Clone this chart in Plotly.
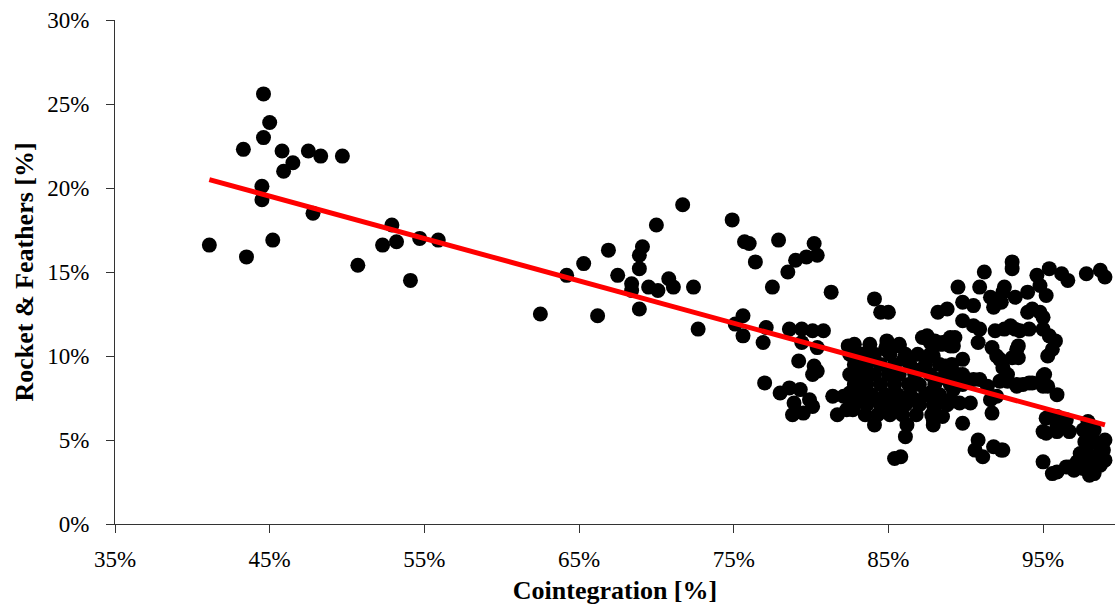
import plotly.graph_objects as go

# Scatter points: cointegration [%] vs rocket & feathers [%]
coint = [
    # left group
    41.1, 43.3, 43.5, 44.6, 44.6, 45.0, 44.5, 44.5, 45.2, 45.8, 45.9, 46.5, 47.5, 47.8, 48.3, 49.7,
    50.7, 52.3, 52.9, 53.2, 54.1, 54.7, 55.9,
    # middle group
    62.5, 64.2, 65.3, 66.2, 66.9, 67.5, 68.4, 68.4, 69.1, 68.9, 68.9, 68.9, 69.5, 70.1, 70.0, 70.8, 71.1,
    71.7, 72.4, 72.7,
    # 75-82%
    74.9, 75.7, 76.0, 76.4, 77.9, 80.2, 80.4, 79.7, 79.0, 78.5, 77.5, 81.3, 75.6, 75.1, 75.6, 76.9,
    77.1, 78.6, 79.4, 80.1, 80.8, 79.4, 80.4, 79.2, 80.2, 80.1, 80.4, 82.4,
    77.0, 78.0, 78.6, 79.3, 78.9, 79.9, 80.1, 78.8, 79.5, 81.4, 81.7, 82.3, 82.3, 82.1, 82.5, 82.7,
    # dense cluster 82-90%
    82.8, 83.8, 84.9, 85.7, 87.5, 88.5,
    82.5, 83.3, 84.1, 85.1, 86.1, 86.9, 87.7,
    82.8, 83.6, 84.5, 85.4, 86.4, 87.4, 88.3, 89.1,
    82.5, 83.3, 84.1, 85.0, 85.7, 86.7, 87.7, 88.7, 89.5,
    82.8, 83.6, 84.5, 85.4, 86.3, 87.0, 88.0, 89.0, 89.8,
    83.2, 83.9, 84.8, 85.6, 86.4, 87.4, 88.3,
    82.8, 83.6, 84.5, 85.3, 86.1, 87.0, 87.9, 88.8,
    83.5, 84.3, 85.1, 85.9, 86.8, 87.8,
    84.1, 86.2, 87.9, 86.1, 85.4, 85.8,
    84.1, 84.5, 85.0, 84.9, 85.7, 87.2, 88.0, 88.5, 89.0, 89.2,
    84.8, 86.0, 87.1, 88.2, 89.2, 86.7, 88.0, 85.8, 84.2, 83.0, 83.0, 84.0,
    # 88-94%
    88.2, 88.8, 89.5, 89.8, 90.5, 89.8, 90.5, 90.9, 90.9, 91.6, 91.2, 93.0, 93.0, 92.4, 93.2, 91.8,
    92.3, 91.9, 92.9, 93.5,
    89.3, 89.0, 88.3, 90.8, 91.7, 92.0, 93.4, 93.0, 89.8, 88.7, 87.7, 87.9,
    92.7, 92.2, 94.3, 95.1, 95.0, 93.3, 93.7, 90.9, 91.4, 89.8, 90.5,
    87.7, 88.3, 89.0, 89.6, 90.3, 87.9, 88.5, 89.8, 91.7, 91.6, 92.0,
    95.4, 95.2, 95.9,
    90.8, 90.6, 91.1, 91.8, 92.3, 95.0,
    # right group 92-99%
    94.6, 95.4, 96.2, 96.6, 97.8, 98.7, 99.0,
    92.5, 94.0, 94.8, 95.2, 94.0, 94.8, 94.3, 95.0,
    92.5, 93.2, 94.1, 95.0, 95.4, 95.8, 95.6, 95.3, 93.3, 92.2, 92.4, 93.4,
    94.1, 95.0, 95.3, 92.7, 93.3, 95.9,
    95.2, 95.0, 95.9, 96.5, 96.7, 95.9,
    92.4, 95.9, 96.5, 95.6,
    97.6, 98.0, 97.8, 98.2, 98.7, 97.2, 97.6, 98.0, 98.7, 98.9, 98.5,
    97.7, 98.3, 97.4, 98.0, 97.0, 98.3, 97.9, 98.5, 96.7, 99.0, 99.0,
]
rf = [
    # left group
    16.6, 22.3, 15.9, 25.6, 23.0, 23.9, 20.1, 19.3, 16.9, 22.2, 21.0, 21.5, 22.2, 18.5, 21.9, 21.9,
    15.4, 16.6, 17.8, 16.8, 14.5, 17.0, 16.9,
    # middle group
    12.5, 14.8, 15.5, 12.4, 16.3, 14.8, 14.3, 13.9, 16.5, 16.0, 15.2, 12.8, 14.1, 13.9, 17.8, 14.6, 14.1,
    19.0, 14.1, 11.6,
    # 75-82%
    18.1, 16.8, 16.7, 15.6, 16.9, 16.7, 16.0, 15.9, 15.7, 15.0, 14.1, 13.8, 12.4, 11.9, 11.2, 10.8,
    11.7, 11.6, 11.6, 11.5, 11.5, 10.8, 10.5, 9.7, 9.4, 8.9, 9.1, 10.6,
    8.4, 7.8, 8.1, 8.0, 7.2, 7.4, 7.0, 6.5, 6.6, 7.6, 6.5, 6.8, 7.6, 7.6, 7.8, 6.8,
    # dense cluster 82-90%
    10.7, 10.7, 10.7, 10.7, 11.2, 10.7,
    10.1, 10.1, 10.1, 10.1, 10.1, 10.1, 10.1,
    9.5, 9.5, 9.5, 9.5, 9.5, 9.5, 9.5, 9.5,
    8.9, 8.9, 8.9, 8.9, 8.9, 8.9, 8.9, 8.9, 8.9,
    8.3, 8.3, 8.3, 8.3, 8.3, 8.3, 8.3, 8.3, 8.3,
    7.7, 7.7, 7.7, 7.7, 7.7, 7.7, 7.7,
    7.1, 7.1, 7.1, 7.1, 7.1, 7.1, 7.1, 7.1,
    6.5, 6.5, 6.5, 6.5, 6.5, 6.5,
    5.9, 5.9, 5.9, 5.2, 3.9, 4.0,
    13.4, 12.6, 12.6, 10.9, 10.6, 11.1, 10.9, 10.8, 11.1, 10.6,
    10.4, 9.8, 9.2, 8.6, 8.0, 7.4, 7.0, 6.8, 7.4, 8.0, 9.2, 9.8,
    # 88-94%
    12.6, 12.8, 14.1, 13.2, 13.0, 12.1, 11.8, 11.6, 14.1, 13.5, 15.0, 15.2, 15.6, 13.8, 13.5, 12.9,
    13.2, 11.5, 11.8, 11.5,
    11.1, 10.6, 10.7, 10.8, 10.5, 10.0, 10.6, 9.9, 9.8, 9.4, 10.8, 10.0,
    8.9, 8.5, 8.4, 8.9, 8.2, 8.2, 8.3, 8.6, 8.2, 8.9, 8.6,
    7.8, 7.4, 7.4, 7.2, 7.2, 6.2, 6.4, 6.0, 6.6, 7.4, 7.6,
    6.4, 5.4, 5.8,
    5.0, 4.4, 4.0, 4.6, 4.4, 3.7,
    # right group 92-99%
    14.8, 15.2, 14.9, 14.5, 14.9, 15.1, 14.7,
    14.1, 13.8, 14.2, 13.6, 12.6, 12.6, 12.8, 12.3,
    11.6, 11.6, 11.6, 11.6, 11.2, 10.9, 10.4, 10.0, 10.4, 9.8, 9.3, 9.9,
    8.4, 8.8, 8.2, 8.5, 8.3, 7.7,
    6.3, 5.5, 6.4, 6.2, 5.5, 5.5,
    4.4, 3.1, 3.4, 3.0,
    5.6, 5.2, 4.4, 4.0, 4.0, 3.7, 3.3, 2.9, 3.5, 4.4, 4.8,
    4.9, 5.6, 4.2, 3.6, 3.2, 3.0, 6.1, 3.8, 3.4, 5.0, 3.8,
]

# Trend line endpoints
trend_x = [41.1, 99.0]
trend_y = [20.5, 5.9]

x_ticks = [35, 45, 55, 65, 75, 85, 95]
y_ticks = [0, 5, 10, 15, 20, 25, 30]

FONT = "Liberation Serif, Times New Roman, serif"

fig = go.Figure()
fig.add_trace(go.Scatter(
    x=coint, y=rf, mode="markers",
    marker=dict(size=15, color="black", line=dict(width=0)),
    showlegend=False, cliponaxis=False,
))
fig.add_trace(go.Scatter(
    x=trend_x, y=trend_y, mode="lines",
    line=dict(color="#ff0000", width=5),
    showlegend=False,
))

fig.update_layout(
    width=1115, height=611,
    margin=dict(l=115, r=0, t=20, b=87),
    paper_bgcolor="white", plot_bgcolor="white",
    font=dict(family=FONT, size=23, color="black"),
    xaxis=dict(
        range=[35, 99.65], tickvals=x_ticks, ticktext=[f"{v}%" for v in x_ticks],
        showgrid=False, zeroline=False, showline=True, linecolor="#333333", linewidth=1,
        ticks="outside", ticklen=8, tickwidth=1, tickcolor="#333333",
        ticklabelstandoff=6,
        title=dict(text="<b>Cointegration [%]</b>", font=dict(family=FONT, size=26), standoff=10),
    ),
    yaxis=dict(
        range=[0, 30], tickvals=y_ticks, ticktext=[f"{v}%" for v in y_ticks],
        showgrid=False, zeroline=False, showline=True, linecolor="#333333", linewidth=1,
        ticks="outside", ticklen=8, tickwidth=1, tickcolor="#333333",
        ticklabelstandoff=12,
        title=dict(text="<b>Rocket & Feathers [%]</b>", font=dict(family=FONT, size=26), standoff=6),
    ),
)

fig.write_html("out.html")
